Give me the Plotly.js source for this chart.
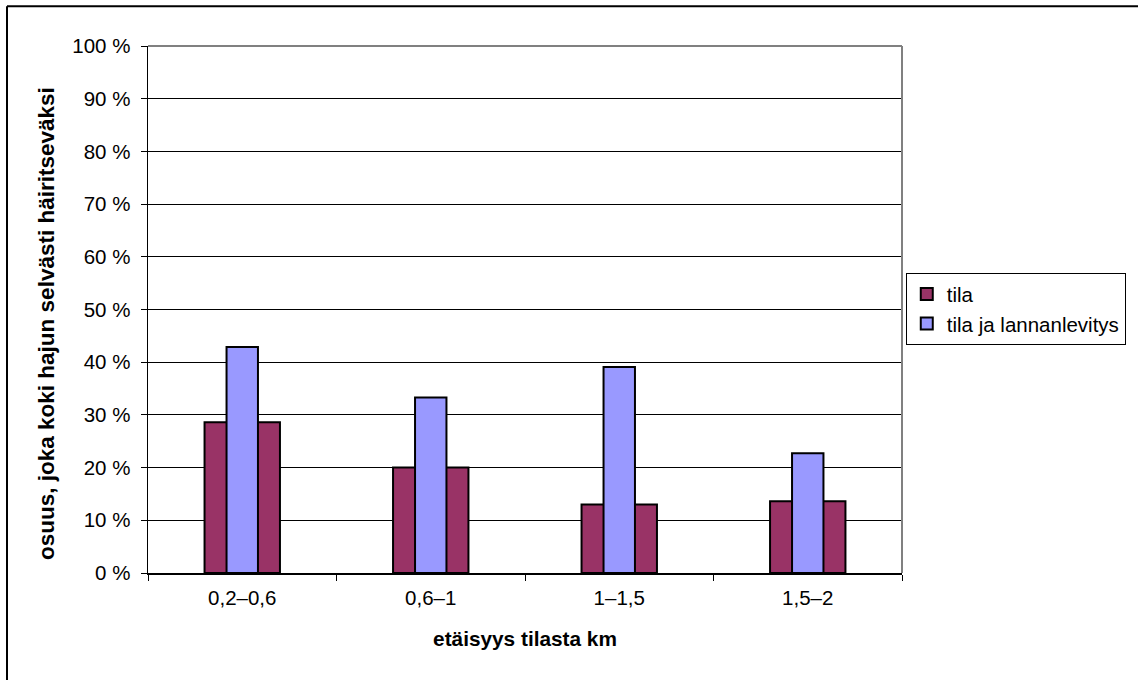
<!DOCTYPE html>
<html>
<head>
<meta charset="utf-8">
<script src="https://cdn.plot.ly/plotly-3.0.1.min.js"></script>
<style>
  html, body { margin: 0; padding: 0; background: #fff; }
  #chart { width: 1138px; height: 680px; }
</style>
</head>
<body>
<div id="chart"></div>
<script>
// Distance bands from the farm (km)
const categories = ['0,2–0,6', '0,6–1', '1–1,5', '1,5–2'];
// Share (%) who found the odour clearly disturbing
const tila = [28.6, 20.0, 13.0, 13.6];
const tilaJaLannanlevitys = [42.9, 33.3, 39.1, 22.7];
const yTickVals = [0, 10, 20, 30, 40, 50, 60, 70, 80, 90, 100];
const yTickText = ['0 %', '10 %', '20 %', '30 %', '40 %', '50 %', '60 %', '70 %', '80 %', '90 %', '100 %'];

const FONT = 'Liberation Sans, Arial, sans-serif';
const MAROON = '#993366';
const PERIWINKLE = '#9999FF';
const barW = 0.1667;
const edge = { color: '#000', width: 2 };

const traces = [
  {
    type: 'bar', name: 'tila', x: categories, y: tila,
    width: barW, offset: -0.2,
    marker: { color: MAROON, line: edge },
    showlegend: true, legendrank: 1
  },
  {
    type: 'bar', name: 'tila', x: categories, y: tila,
    width: barW, offset: 0.0333,
    marker: { color: MAROON, line: edge },
    showlegend: false
  },
  {
    type: 'bar', name: 'tila ja lannanlevitys', x: categories, y: tilaJaLannanlevitys,
    width: barW, offset: -barW / 2,
    marker: { color: PERIWINKLE, line: edge },
    showlegend: true, legendrank: 2
  }
];

const layout = {
  width: 1138, height: 680,
  margin: { l: 148, r: 236, t: 46, b: 107 },
  paper_bgcolor: '#fff', plot_bgcolor: '#fff',
  font: { family: FONT, size: 20.5, color: '#000' },
  barmode: 'overlay',
  showlegend: true,
  legend: {
    x: 1.005, y: 0.569, xanchor: 'left', yanchor: 'top',
    bordercolor: '#000', borderwidth: 1,
    font: { family: FONT, size: 20.5, color: '#000' },
    traceorder: 'normal',
    itemwidth: 30
  },
  xaxis: {
    type: 'category',
    range: [-0.5, 3.5],
    tickson: 'boundaries',
    ticks: 'outside', ticklen: 6, tickcolor: '#000', tickwidth: 1,
    ticklabelstandoff: 6,
    showline: true, linecolor: '#000', linewidth: 1.5,
    showgrid: false, zeroline: false,
    tickfont: { family: FONT, size: 20.5, color: '#000' },
    title: { text: '<b>etäisyys tilasta km</b>', font: { family: FONT, size: 20.8, color: '#000' }, standoff: 23 }
  },
  yaxis: {
    range: [0, 100],
    tickvals: yTickVals, ticktext: yTickText,
    ticks: 'outside', ticklen: 6, tickcolor: '#000', tickwidth: 1,
    ticklabelstandoff: 6,
    showline: true, linecolor: '#000', linewidth: 1.5,
    showgrid: true, gridcolor: '#000', gridwidth: 1,
    zeroline: false,
    tickfont: { family: FONT, size: 20.5, color: '#000' }
  },
  annotations: [
    // y-axis title, placed slightly below the plot centre
    { text: '<b>osuus, joka koki hajun selvästi häiritseväksi</b>',
      xref: 'paper', yref: 'paper', x: -0.134, y: 0.4744,
      xanchor: 'center', yanchor: 'middle', textangle: -90, showarrow: false,
      font: { family: FONT, size: 22.5, color: '#000' } }
  ],
  shapes: [
    // plot-area frame (top and right edges)
    { type: 'line', xref: 'paper', yref: 'paper', x0: 0, x1: 1, y0: 1, y1: 1,
      line: { color: '#808080', width: 2 }, layer: 'above' },
    { type: 'line', xref: 'paper', yref: 'paper', x0: 1, x1: 1, y0: 0, y1: 1,
      line: { color: '#808080', width: 2 }, layer: 'above' },
    // outer chart frame
    { type: 'line', xref: 'paper', yref: 'paper', x0: -0.187, x1: 1.5, y0: 1.0755, y1: 1.0755,
      line: { color: '#000', width: 2 }, layer: 'above' },
    { type: 'line', xref: 'paper', yref: 'paper', x0: -0.187, x1: -0.187, y0: 1.0755, y1: -0.5,
      line: { color: '#000', width: 2 }, layer: 'above' }
  ]
};

Plotly.newPlot('chart', traces, layout, { displayModeBar: false, staticPlot: true });
</script>
</body>
</html>
